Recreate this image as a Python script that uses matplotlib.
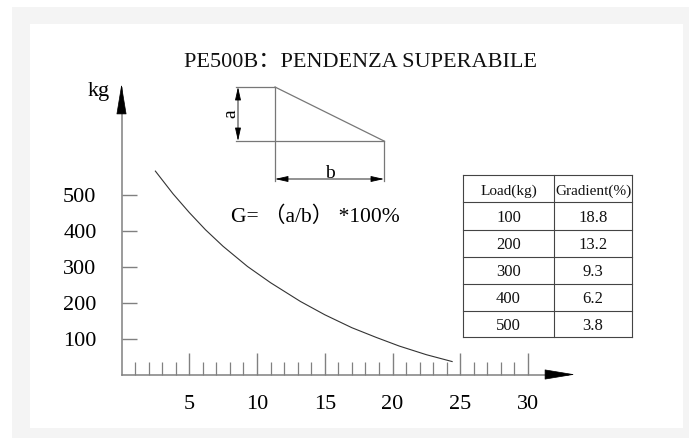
import matplotlib
matplotlib.use("Agg")
import matplotlib.pyplot as plt
from matplotlib.patches import Rectangle
from matplotlib.ticker import FixedLocator

# ---------------- data ----------------
title = "PE500B：PENDENZA SUPERABILE"
y_label = "kg"
formula = "G= （a/b） *100%"
y_ticks = [100, 200, 300, 400, 500]
y_ticklabels = ["100", "200", "300", "400", "500"]
x_ticks = [5, 10, 15, 20, 25, 30]
x_ticklabels = ["5", "10", "15", "20", "25", "30"]
x_minor = [1, 2, 3, 4, 6, 7, 8, 9, 11, 12, 13, 14, 16, 17, 18, 19,
           21, 22, 23, 24, 26, 27, 28, 29]
# curve: gradient (%) vs load (kg)
curve_x = [2.5, 3.8, 5.0, 6.2, 7.5, 9.3, 11.0, 13.2, 15.0, 17.0, 18.8, 20.5, 22.5, 24.4]
curve_y = [565, 502, 450, 402, 356, 300, 255, 203, 166, 130, 103, 79, 55, 36]
table_header = ["Load(kg)", "Gradient(%)"]
loads = [100, 200, 300, 400, 500]
gradients = [18.8, 13.2, 9.3, 6.2, 3.8]

FONT = ["Liberation Serif", "Noto Sans CJK SC"]
plt.rcParams["font.family"] = FONT

W, H = 689, 439
fig = plt.figure(figsize=(W / 100, H / 100), dpi=100)
fig.patch.set_facecolor("white")

# ---------- decoration axes in pixel coordinates ----------
bg = fig.add_axes([0, 0, 1, 1], zorder=0)
bg.set_xlim(0, W)
bg.set_ylim(H, 0)
bg.axis("off")
bg.add_patch(Rectangle((12, 8), W - 12, H - 8, facecolor="#f4f4f4", edgecolor="none"))
bg.add_patch(Rectangle((30, 25), 653, 404, facecolor="white", edgecolor="none"))

bg.text(361, 67, title, ha="center", va="baseline", fontsize=16, color="#111111")

# slope diagram
gcol = "#777777"
lw = 0.9
bg.plot([236, 275], [88, 88], color=gcol, lw=lw)
bg.plot([275, 275], [88, 182], color=gcol, lw=lw)
bg.plot([275, 384], [88, 142], color=gcol, lw=lw)
bg.plot([236, 384], [142, 142], color=gcol, lw=lw)
bg.plot([384, 384], [142, 182], color=gcol, lw=lw)
dim = dict(arrowstyle="<|-|>,head_length=0.8,head_width=0.18", color="black",
           lw=0.6, shrinkA=0, shrinkB=0, mutation_scale=10)
bg.annotate("", xy=(238, 88), xytext=(238, 142), arrowprops=dim)
bg.annotate("", xy=(275, 180), xytext=(384, 180), arrowprops=dim)
bg.text(231, 114, "a", rotation=90, ha="center", va="center", fontsize=14)
bg.text(330, 178, "b", ha="center", va="baseline", fontsize=14)
bg.text(315, 222, formula, ha="center", va="baseline", fontsize=15.5)

# table
tx = [463, 554, 632]
ty = [176, 203, 231, 258, 285, 312, 338]
tcol = "#444444"
for yy in ty:
    bg.plot([tx[0], tx[-1]], [yy, yy], color=tcol, lw=0.8)
for xx in tx:
    bg.plot([xx, xx], [ty[0], ty[-1]], color=tcol, lw=0.8)
cx = [(tx[0] + tx[1]) / 2, (tx[1] + tx[2]) / 2]
rows = [table_header] + [[str(l), f"{g:.1f}"] for l, g in zip(loads, gradients)]
for i, row in enumerate(rows):
    yc = (ty[i] + ty[i + 1]) / 2 + 5
    fs = 11 if i == 0 else 12
    for j, s in enumerate(row):
        bg.text(cx[j], yc, s, ha="center", va="baseline", fontsize=fs, color="#111111")

# ---------- main chart axes ----------
ax = fig.add_axes([0, 0, 1, 1], zorder=1)
ax.patch.set_alpha(0)
x0_px, px_per_x = 121.5, 13.55
y0_px, px_per_y = 375.5, 0.36
ax.set_xlim(-x0_px / px_per_x, (W - x0_px) / px_per_x)
ax.set_ylim((y0_px - H) / px_per_y, y0_px / px_per_y)

scol = "#808080"
for s in ["top", "right"]:
    ax.spines[s].set_visible(False)
ax.spines["left"].set_position(("data", 0))
ax.spines["bottom"].set_position(("data", 0))
y_top = (y0_px - 85) / px_per_y
x_end = (575 - x0_px) / px_per_x
ax.spines["left"].set_bounds(0, y_top - 10)
ax.spines["bottom"].set_bounds(0, x_end - 0.5)
for s in ["left", "bottom"]:
    ax.spines[s].set_color(scol)
    ax.spines[s].set_linewidth(1.1)

ax.set_yticks(y_ticks)
ax.set_yticklabels(y_ticklabels, fontsize=16)
ax.set_xticks(x_ticks)
ax.set_xticklabels(x_ticklabels, fontsize=16)
ax.xaxis.set_minor_locator(FixedLocator(x_minor))
ax.tick_params(axis="y", direction="in", length=10.8, width=1.0, color=scol, pad=18)
ax.tick_params(axis="x", which="major", direction="in", length=15.8, width=1.0, color=scol, pad=14)
ax.tick_params(axis="x", which="minor", direction="in", length=9.4, width=0.9, color=scol)

# axis arrow heads
head = dict(arrowstyle="-|>,head_length=2.0,head_width=0.33", color="black",
            lw=0.5, shrinkA=0, shrinkB=0, mutation_scale=10)
ax.annotate("", xy=(0, y_top), xytext=(0, y_top - 28 / px_per_y), arrowprops=head)
ax.annotate("", xy=(x_end, 0), xytext=(x_end - 27 / px_per_x, 0), arrowprops=head)

ax.text(-23 / px_per_x, (y0_px - 96) / px_per_y, y_label, ha="center", va="baseline", fontsize=16)

# curve
ax.plot(curve_x, curve_y, color="#333333", lw=0.8, solid_joinstyle="round")

fig.savefig("out.png", dpi=100)
